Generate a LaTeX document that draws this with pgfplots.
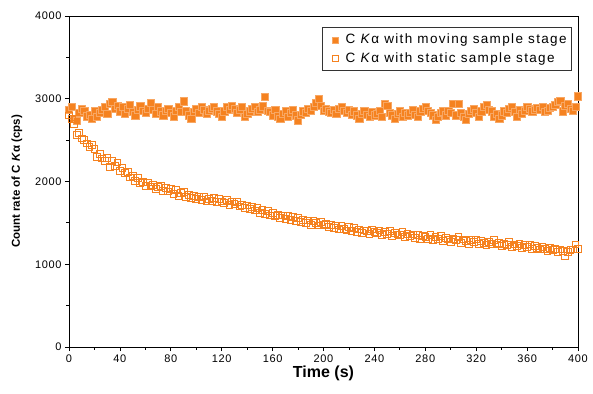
\documentclass[border=0pt]{standalone}
\usepackage{pgfplots}
\pgfplotsset{compat=1.18}
\usepackage{pgfplotstable}
\usepackage{fontspec}
\setmainfont{Liberation Sans}
\newfontfamily\wide{Liberation Sans}[LetterSpace=10]
\newfontfamily\tickf{Liberation Sans}[LetterSpace=6]
\definecolor{dorange}{RGB}{245,130,32}
\pgfplotsset{myleg/.style={legend image code/.code={\path (0bp,0bp) (18bp,0bp); \draw[##1, mark size=3bp] plot coordinates {(10bp,0bp)};}}}
\pgfplotstableread{
t v
0 2870
2 2900
4 2760
6 2730
8 2830
10 2880
12 2860
14 2790
16 2810
18 2760
20 2850
22 2780
24 2830
26 2870
28 2900
30 2820
32 2940
34 2960
36 2880
38 2920
40 2850
42 2900
44 2820
46 2880
48 2930
50 2840
52 2800
54 2870
56 2910
58 2860
60 2830
62 2880
64 2950
66 2870
68 2820
70 2900
72 2850
74 2800
76 2860
78 2880
80 2830
82 2790
84 2860
86 2900
88 2840
90 2970
92 2850
94 2800
96 2760
98 2840
100 2880
102 2830
104 2900
106 2870
108 2820
110 2860
112 2880
114 2900
116 2850
118 2820
120 2780
122 2850
124 2900
126 2870
128 2920
130 2880
132 2830
134 2870
136 2900
138 2780
140 2820
142 2850
144 2880
146 2900
148 2840
150 2870
152 2910
154 3020
156 2860
158 2840
160 2800
162 2870
164 2790
166 2760
168 2820
170 2850
172 2780
174 2830
176 2870
178 2800
180 2740
182 2810
184 2850
186 2830
188 2880
190 2860
192 2900
194 2950
196 3000
198 2920
200 2860
202 2880
204 2850
206 2830
208 2870
210 2820
212 2880
214 2900
216 2860
218 2830
220 2870
222 2810
224 2850
226 2800
228 2760
230 2820
232 2860
234 2810
236 2780
238 2840
240 2800
242 2820
244 2860
246 2780
248 2940
250 2920
252 2830
254 2800
256 2760
258 2820
260 2850
262 2780
264 2830
266 2800
268 2830
270 2870
272 2810
274 2780
276 2850
278 2880
280 2900
282 2860
284 2830
286 2800
288 2750
290 2780
292 2830
294 2850
296 2800
298 2860
300 2830
302 2940
304 2800
306 2940
308 2830
310 2780
312 2750
314 2820
316 2860
318 2880
320 2830
322 2780
324 2850
326 2900
328 2930
330 2870
332 2850
334 2780
336 2820
338 2760
340 2800
342 2850
344 2830
346 2880
348 2900
350 2840
352 2780
354 2870
356 2820
358 2860
360 2900
362 2880
364 2850
366 2870
368 2890
370 2870
372 2900
374 2840
376 2860
378 2890
380 2900
382 2930
384 2960
386 2980
388 2850
390 2920
392 2940
394 2880
396 2860
398 2900
400 3030
}\moving
\pgfplotstableread{
t v
0 2800
2 2760
4 2700
6 2560
8 2590
10 2520
12 2500
14 2460
16 2420
18 2440
20 2390
22 2300
24 2330
26 2280
28 2250
30 2290
32 2180
34 2250
36 2190
38 2230
40 2130
42 2160
44 2100
46 2120
48 2050
50 2070
52 2010
54 2040
56 1980
58 2000
60 1950
62 1990
64 1940
66 1960
68 1910
70 1930
72 1950
74 1890
76 1920
78 1880
80 1910
82 1850
84 1900
86 1830
88 1860
90 1870
92 1810
94 1840
96 1800
98 1830
100 1790
102 1810
104 1780
106 1820
108 1760
110 1790
112 1770
114 1800
116 1750
118 1790
120 1760
122 1740
124 1780
126 1720
128 1760
130 1730
132 1750
134 1700
136 1720
138 1680
140 1710
142 1670
144 1690
146 1650
148 1680
150 1620
152 1660
154 1610
156 1640
158 1590
160 1620
162 1580
164 1600
166 1560
168 1590
170 1550
172 1580
174 1540
176 1570
178 1520
180 1560
182 1510
184 1540
186 1500
188 1530
190 1480
192 1520
194 1500
196 1470
198 1510
200 1480
202 1490
204 1450
206 1480
208 1440
210 1470
212 1420
214 1460
216 1430
218 1410
220 1450
222 1400
224 1440
226 1390
228 1420
230 1380
232 1410
234 1400
236 1370
238 1420
240 1390
242 1380
244 1410
246 1350
248 1390
250 1370
252 1400
254 1340
256 1380
258 1360
260 1350
262 1390
264 1330
266 1370
268 1340
270 1360
272 1320
274 1350
276 1300
278 1340
280 1330
282 1310
284 1350
286 1290
288 1330
290 1310
292 1340
294 1280
296 1320
298 1300
300 1270
302 1310
304 1290
306 1330
308 1260
310 1300
312 1280
314 1240
316 1290
318 1270
320 1300
322 1250
324 1280
326 1260
328 1230
330 1270
332 1250
334 1290
336 1240
338 1260
340 1220
342 1250
344 1230
346 1270
348 1210
350 1240
352 1220
354 1250
356 1200
358 1230
360 1210
362 1240
364 1190
366 1220
368 1200
370 1180
372 1210
374 1190
376 1160
378 1200
380 1170
382 1190
384 1150
386 1180
388 1160
390 1100
392 1150
394 1170
396 1180
398 1240
400 1190
}\static
\begin{document}
\begin{tikzpicture}
\useasboundingbox (-69bp,-47bp) rectangle (524bp,347bp);
\begin{axis}[
  at={(0,0)}, anchor=south west,
  scale only axis, width=509bp, height=331bp,
  xmin=0, xmax=400, ymin=0, ymax=4000,
  xtick distance=40, ytick distance=1000,
  minor x tick num=1, minor y tick num=1,
  tick align=outside, xtick pos=bottom, ytick pos=left,
  major tick length=4bp, minor tick length=2.5bp,
  every tick/.style={black, line width=0.8pt},
  axis line style={line width=1pt},
  /pgf/number format/assume math mode=true,
  /pgf/number format/1000 sep={},
  tick label style={font=\tickf\fontsize{11bp}{12bp}\selectfont},
  xlabel={\textbf{Time (s)}},
  ylabel={\textbf{Count rate of C \textit{K}α (cps)}},
  xlabel style={font=\fontsize{16bp}{18bp}\selectfont, yshift=3bp},
  ylabel style={font=\fontsize{11.5bp}{13bp}\selectfont, yshift=6bp},
  legend style={at={(0.988,0.967)}, anchor=north east, draw=black!80, line width=0.6pt,
    font=\wide\fontsize{13.5bp}{15bp}\selectfont, row sep=3bp, inner xsep=3bp, inner ysep=5bp},
  legend cell align=left,
  clip=false,
]
\addplot[only marks, mark=square*, mark size=3.6bp, mark options={fill=dorange, draw=dorange!70, line width=0.4pt}, myleg] table[x=t,y=v]{\moving};
\addlegendentry{C \textit{K}α with moving sample stage\hspace{9bp}}
\addplot[only marks, mark=square, mark size=3.4bp, mark options={draw=dorange, fill=white, fill opacity=0, line width=0.8pt}, myleg] table[x=t,y=v]{\static};
\addlegendentry{C \textit{K}α with static sample stage}
\end{axis}
\end{tikzpicture}
\end{document}
